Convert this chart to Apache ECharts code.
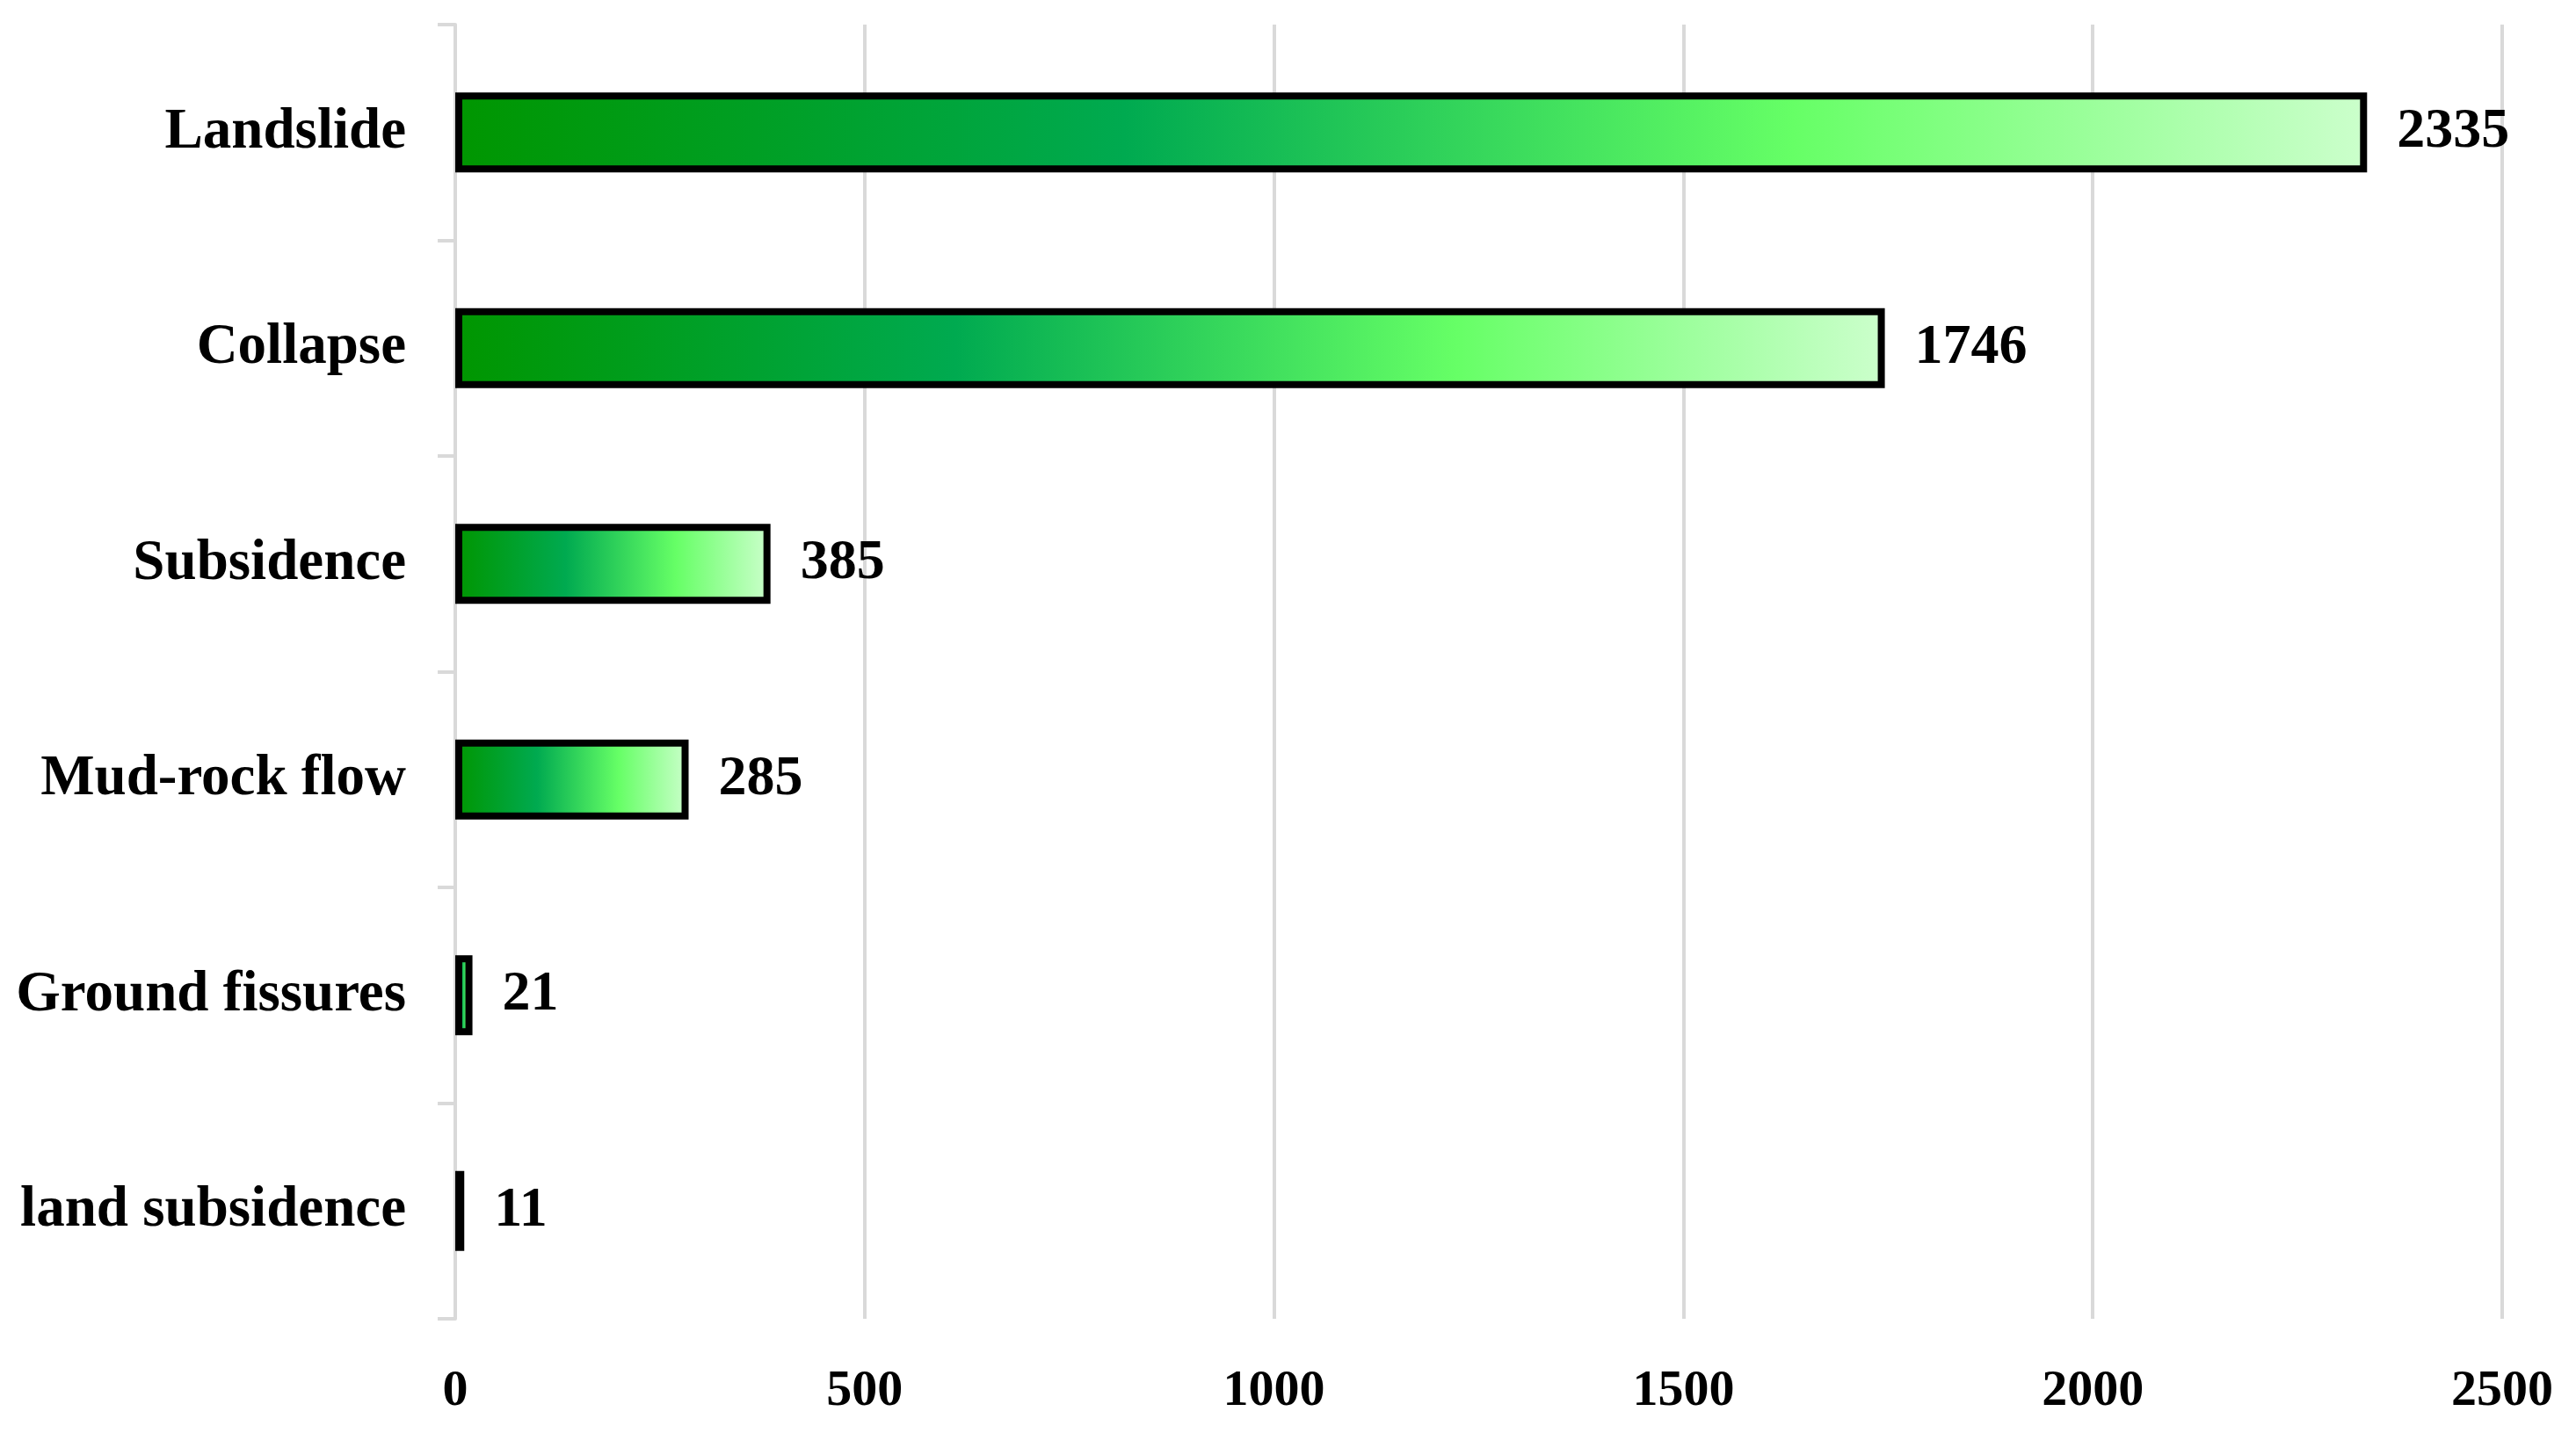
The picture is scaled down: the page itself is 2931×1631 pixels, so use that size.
<!DOCTYPE html>
<html>
<head>
<meta charset="utf-8">
<script src="https://cdn.jsdelivr.net/npm/echarts@6/dist/echarts.min.js"></script>
<style>
html,body{margin:0;padding:0;background:#fff;}
#chart{width:2931px;height:1631px;}
</style>
</head>
<body>
<div id="chart"></div>
<script>
var categories = ['Landslide', 'Collapse', 'Subsidence', 'Mud-rock flow', 'Ground fissures', 'land subsidence'];
var values = [2335, 1746, 385, 285, 21, 11];
var xTicks = [0, 500, 1000, 1500, 2000, 2500];

var FONT = '"Liberation Serif", "Times New Roman", serif';
var chart = echarts.init(document.getElementById('chart'));
var barGradient = new echarts.graphic.LinearGradient(0, 0, 1, 0, [
  {offset: 0, color: '#009600'},
  {offset: 0.35, color: '#00aa50'},
  {offset: 0.7, color: '#66ff66'},
  {offset: 1, color: '#ccffcc'}
]);
chart.setOption({
  animation: false,
  backgroundColor: '#ffffff',
  grid: {left: 518, right: 84, top: 28, bottom: 130, containLabel: false},
  xAxis: {
    type: 'value',
    min: xTicks[0],
    max: xTicks[xTicks.length - 1],
    interval: 500,
    axisLine: {show: false},
    axisTick: {show: false},
    splitLine: {show: true, lineStyle: {color: '#d9d9d9', width: 4}},
    axisLabel: {
      margin: 54,
      formatter: function (v) { return String(v); },
      fontFamily: FONT, fontWeight: 'bold', fontSize: 58, color: '#000'
    }
  },
  yAxis: {
    type: 'category',
    data: categories,
    inverse: true,
    axisLine: {show: true, lineStyle: {color: '#d9d9d9', width: 4}},
    axisTick: {show: true, length: 20, lineStyle: {color: '#d9d9d9', width: 4}},
    axisLabel: {
      margin: 56,
      padding: [6, 0, 0, 0],
      fontFamily: FONT, fontWeight: 'bold', fontSize: 65, color: '#000'
    }
  },
  series: [{
    type: 'bar',
    data: values,
    barWidth: '37%',
    itemStyle: {
      color: barGradient,
      borderColor: '#000',
      borderWidth: 8
    },
    label: {
      show: true,
      position: 'right',
      distance: 34,
      padding: [6, 0, 0, 0],
      fontFamily: FONT, fontWeight: 'bold', fontSize: 64, color: '#000'
    }
  }]
});
</script>
</body>
</html>
